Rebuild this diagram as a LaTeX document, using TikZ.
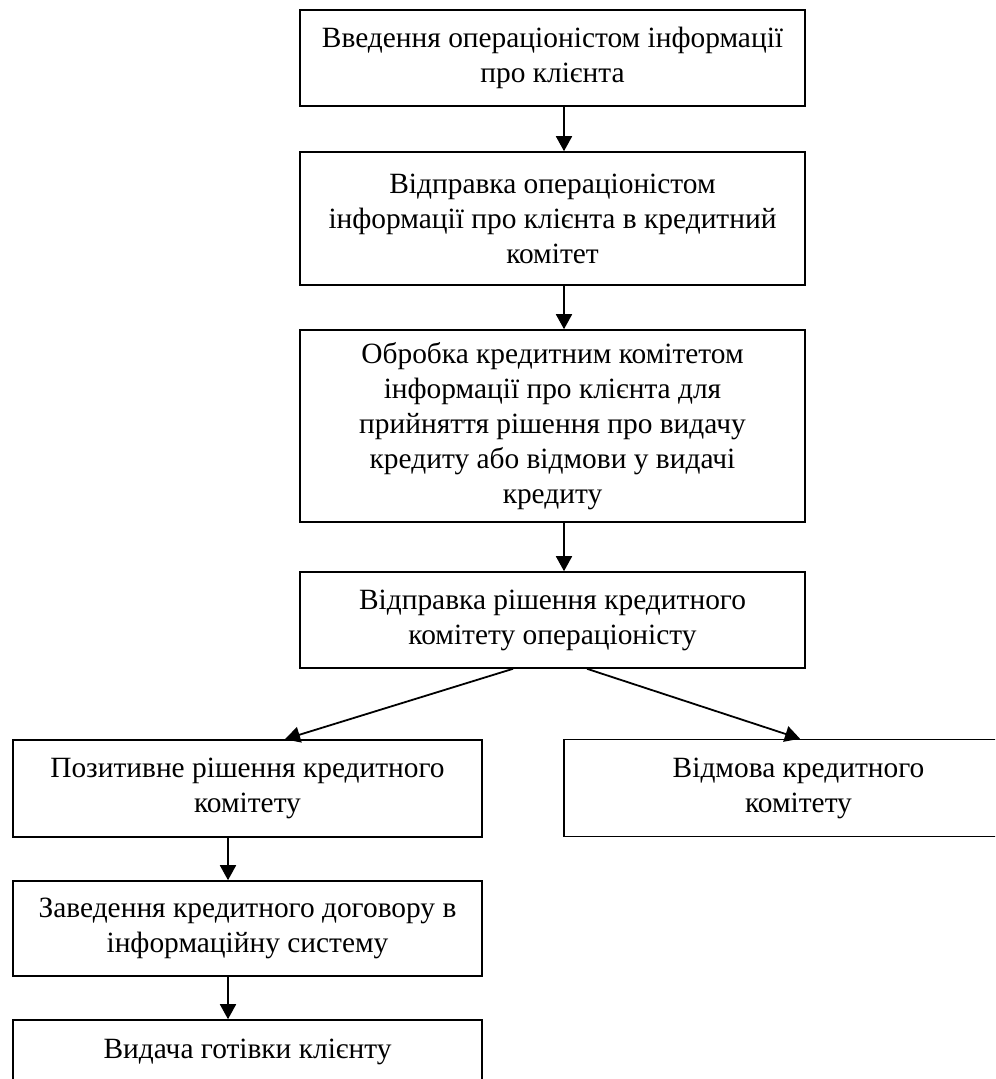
\documentclass[tikz,border=0pt]{standalone}
\usepackage{fontspec}
\setmainfont{Liberation Serif}
\usetikzlibrary{arrows.meta}
\begin{document}
\begin{tikzpicture}[x=0.5pt,y=-0.5pt,
  stage/.style={draw, line width=0.8pt, align=center, inner xsep=2pt, inner ysep=0pt,
    font=\fontsize{14.7}{17.5}\selectfont},
  wide/.style={stage, minimum width=252.5pt},
  narrow/.style={stage, minimum width=234.5pt},
  flow/.style={line width=0.9pt, -{Triangle[length=7.5pt,width=8pt]}}]
\useasboundingbox (0,0) rectangle (995,1079);
\clip (0,0) rectangle (995,1079);

% main column
\node[wide, minimum height=48pt] (b1) at (552.5,58)
  {Введення операціоністом інформації\\про клієнта};
\node[wide, minimum height=66.5pt] (b2) at (552.5,218.5)
  {Відправка операціоністом\\інформації про клієнта в кредитний\\комітет};
\node[wide, minimum height=96pt] (b3) at (552.5,426)
  {Обробка кредитним комітетом\\інформації про клієнта для\\прийняття рішення про видачу\\кредиту або відмови у видачі\\кредиту};
\node[wide, minimum height=48pt] (b4) at (552.5,620)
  {Відправка рішення кредитного\\комітету операціоністу};

% branches
\node[narrow, minimum height=48.5pt] (b5) at (247.5,788.5)
  {Позитивне рішення кредитного\\комітету};
\node[narrow, minimum height=48.5pt] (b6) at (798.5,788)
  {Відмова кредитного\\комітету};
\node[narrow, minimum height=47.5pt] (b7) at (247.5,928.5)
  {Заведення кредитного договору в\\інформаційну систему};
\node[narrow, minimum height=32pt] (b8) at (247.5,1052)
  {Видача готівки клієнту};

% connector columns
\coordinate (mid) at (564,0);
\coordinate (lft) at (228,0);
\coordinate (s5) at (513,0);
\coordinate (s6) at (587,0);
\coordinate (t5) at (285,0);
\coordinate (t6) at (800,0);

\draw[flow] (b1.south -| mid) -- (b2.north -| mid);
\draw[flow] (b2.south -| mid) -- (b3.north -| mid);
\draw[flow] (b3.south -| mid) -- (b4.north -| mid);
\draw[flow] (b4.south -| s5) -- (b5.north -| t5);
\draw[flow] (b4.south -| s6) -- (b6.north -| t6);
\draw[flow] (b5.south -| lft) -- (b7.north -| lft);
\draw[flow] (b7.south -| lft) -- (b8.north -| lft);
\end{tikzpicture}
\end{document}
